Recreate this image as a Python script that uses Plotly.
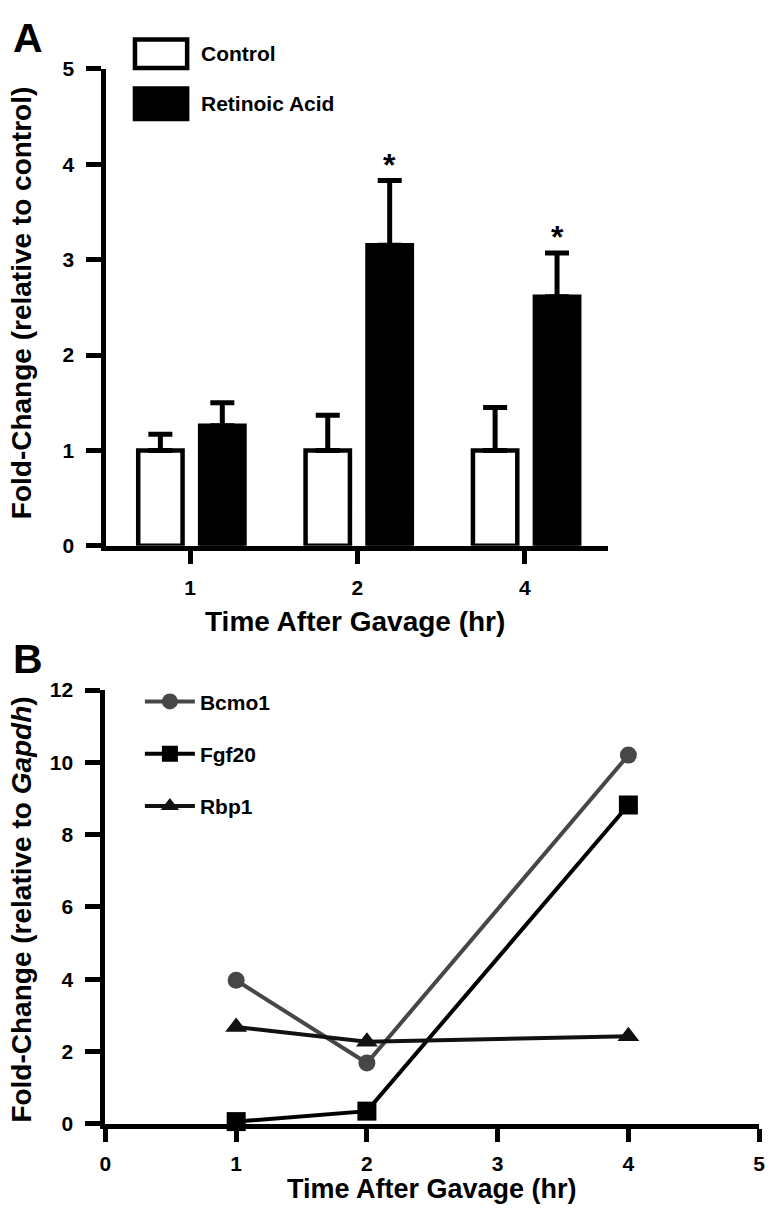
import plotly.graph_objects as go

# ---------------- data ----------------
# Panel A
time_cats = ["1", "2", "4"]
control_mean = [1.0, 1.0, 1.0]
control_err = [0.17, 0.37, 0.45]
ra_mean = [1.26, 3.15, 2.61]
ra_err = [0.24, 0.68, 0.46]
significant = [False, True, True]

# Panel B
time_hr = [1, 2, 4]
bcmo1 = [3.97, 1.68, 10.2]
fgf20 = [0.06, 0.35, 8.82]
rbp1 = [2.68, 2.27, 2.42]

W, H = 773, 1228
FONT = "Liberation Sans, Arial, sans-serif"
NARROW = "Liberation Sans Narrow, Arial Narrow, Liberation Sans, Arial, sans-serif"

def px_x(p):
    return p / W

def px_y(p):
    return 1 - p / H

fig = go.Figure()

bar_w = 0.265
ctrl_off = -0.31
ra_off = 0.06

fig.add_trace(go.Bar(
    x=time_cats, y=control_mean, name="Control",
    width=bar_w, offset=ctrl_off,
    marker=dict(color="white", line=dict(color="black", width=4.5)),
    error_y=dict(type="data", array=control_err, arrayminus=[0] * 3, symmetric=False,
                 color="black", thickness=5, width=12),
    xaxis="x", yaxis="y", showlegend=False,
))
fig.add_trace(go.Bar(
    x=time_cats, y=ra_mean, name="Retinoic Acid",
    width=bar_w, offset=ra_off,
    marker=dict(color="black", line=dict(color="black", width=4.5)),
    error_y=dict(type="data", array=ra_err, arrayminus=[0] * 3, symmetric=False,
                 color="black", thickness=5, width=12),
    xaxis="x", yaxis="y", showlegend=False,
))

# Panel B lines
fig.add_trace(go.Scatter(
    x=time_hr, y=bcmo1, name="Bcmo1", mode="lines+markers",
    line=dict(color="#474747", width=4),
    marker=dict(symbol="circle", size=17, color="#474747"),
    xaxis="x2", yaxis="y2", cliponaxis=False, legendgroup="a",
))
fig.add_trace(go.Scatter(
    x=time_hr, y=fgf20, name="Fgf20", mode="lines+markers",
    line=dict(color="black", width=4),
    marker=dict(symbol="square", size=19, color="black"),
    xaxis="x2", yaxis="y2", cliponaxis=False, legendgroup="b",
))
fig.add_trace(go.Scatter(
    x=time_hr, y=rbp1, name="Rbp1", mode="lines+markers",
    line=dict(color="#111111", width=4),
    marker=dict(symbol="triangle-up", size=19, color="#111111"),
    xaxis="x2", yaxis="y2", cliponaxis=False, legendgroup="c",
))

axis_common = dict(
    showline=True, linecolor="black", linewidth=5, mirror=False,
    ticks="outside", tickwidth=5, tickcolor="black",
    showgrid=False, zeroline=False,
)

annotations = []
# asterisks
for i, (m, e, s) in enumerate(zip(ra_mean, ra_err, significant)):
    if s:
        annotations.append(dict(
            x=i + ra_off + bar_w / 2, y=m + e, xref="x", yref="y",
            text="*", showarrow=False, yanchor="bottom", yshift=-4,
            font=dict(family=FONT, size=32, color="black", weight="bold"),
        ))

# panel labels
annotations += [
    dict(x=px_x(5), y=px_y(26), xref="paper", yref="paper", text="A", showarrow=False,
         xanchor="left", yanchor="middle", font=dict(family=FONT, size=41, color="black", weight="bold")),
    dict(x=px_x(5), y=px_y(659), xref="paper", yref="paper", text="B", showarrow=False,
         xanchor="left", yanchor="middle", font=dict(family=FONT, size=41, color="black", weight="bold")),
    # axis titles
    dict(x=px_x(16), y=px_y(297), xref="paper", yref="paper",
         text="Fold-Change (relative to control)", textangle=-90, showarrow=False,
         xanchor="center", yanchor="middle", font=dict(family=FONT, size=28, color="black", weight="bold")),
    dict(x=px_x(355), y=px_y(621), xref="paper", yref="paper",
         text="Time After Gavage (hr)", showarrow=False,
         xanchor="center", yanchor="middle", font=dict(family=NARROW, size=28, color="black", weight="bold")),
    dict(x=px_x(16), y=px_y(915), xref="paper", yref="paper",
         text="Fold-Change (relative to <i>Gapdh</i>)", textangle=-90, showarrow=False,
         xanchor="center", yanchor="middle", font=dict(family=FONT, size=28, color="black", weight="bold")),
    dict(x=px_x(433), y=px_y(1199), xref="paper", yref="paper",
         text="Time After Gavage (hr)", showarrow=False,
         xanchor="center", yanchor="middle", font=dict(family=NARROW, size=27, color="black", weight="bold")),
    # panel A legend text
    dict(x=px_x(196), y=px_y(42), xref="paper", yref="paper", text="Control", showarrow=False,
         xanchor="left", yanchor="middle", font=dict(family=FONT, size=21, color="black", weight="bold")),
    dict(x=px_x(196), y=px_y(93), xref="paper", yref="paper", text="Retinoic Acid", showarrow=False,
         xanchor="left", yanchor="middle", font=dict(family=FONT, size=21, color="black", weight="bold")),
]

shapes = [
    dict(type="rect", xref="paper", yref="paper",
         x0=px_x(131), x1=px_x(184), y0=px_y(28), y1=px_y(57),
         line=dict(color="black", width=4.5), fillcolor="white"),
    dict(type="rect", xref="paper", yref="paper",
         x0=px_x(131), x1=px_x(184), y0=px_y(78), y1=px_y(109),
         line=dict(color="black", width=4.5), fillcolor="black"),
]

fig.update_layout(
    width=W, height=H,
    margin=dict(l=0, r=0, t=0, b=0),
    paper_bgcolor="white", plot_bgcolor="white",
    font=dict(family=FONT, color="black"),
    xaxis=dict(axis_common, type="category", categoryorder="array", categoryarray=time_cats,
               range=[-0.5, 2.5], domain=[px_x(102), px_x(612)], anchor="y",
               ticklen=13, ticklabelstandoff=6,
               tickfont=dict(family=NARROW, size=21, weight="bold")),
    yaxis=dict(axis_common, range=[0, 5], dtick=1, domain=[px_y(544), px_y(58)], anchor="x",
               ticklen=15, ticklabelstandoff=8,
               tickfont=dict(family=FONT, size=21, weight="bold")),
    xaxis2=dict(axis_common, range=[0, 5], dtick=1, domain=[px_x(101), px_x(765)], anchor="y2",
                ticklen=13, ticklabelstandoff=4,
                tickfont=dict(family=NARROW, size=21, weight="bold")),
    yaxis2=dict(axis_common, range=[0, 12], dtick=2, domain=[px_y(1133), px_y(691)], anchor="x2",
                ticklen=15, ticklabelstandoff=8,
                tickfont=dict(family=FONT, size=21, weight="bold")),
    legend=dict(x=px_x(136), y=px_y(682), xanchor="left", yanchor="top",
                bgcolor="rgba(0,0,0,0)", tracegroupgap=22, itemwidth=50,
                font=dict(family=FONT, size=21, color="black", weight="bold")),
    annotations=annotations,
    shapes=shapes,
)

fig.write_html("out.html", config={"displayModeBar": False},
               post_script="document.body.style.margin='0';document.body.style.overflow='hidden';")
